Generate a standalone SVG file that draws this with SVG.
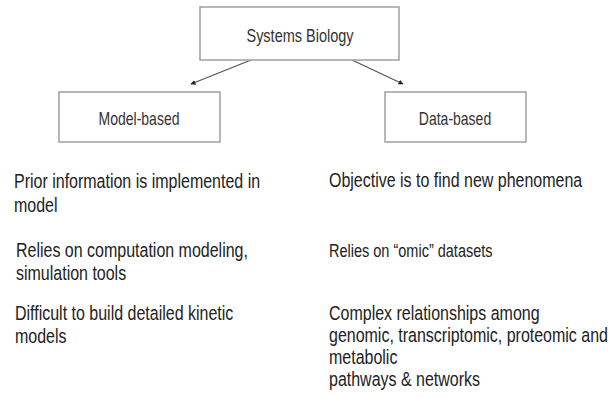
<svg xmlns="http://www.w3.org/2000/svg" width="610" height="398" viewBox="0 0 610 398">
  <style>
    .box { fill: #ffffff; stroke: #a0a0a0; stroke-width: 1.5; }
    .label { font-family: "Liberation Sans", Arial, sans-serif; font-size: 14px; fill: #333333; text-anchor: middle; }
    .body { font-family: "Liberation Sans", Arial, sans-serif; font-size: 16px; fill: #222222; }
    .edge { stroke: #555555; stroke-width: 1.3; fill: none; marker-end: url(#arrow); }
  </style>
  <defs>
    <marker id="arrow" viewBox="0 0 10 10" refX="9" refY="5" markerWidth="5" markerHeight="5" orient="auto" markerUnits="userSpaceOnUse">
      <path d="M0,0 L10,5 L0,10 z" fill="#222222"/>
    </marker>
  </defs>
  <rect width="610" height="398" fill="#ffffff"/>

  <g id="connectors">
    <line class="edge" x1="251" y1="60" x2="191" y2="84"/>
    <line class="edge" x1="352" y1="60" x2="403" y2="84"/>
  </g>

  <!-- text is set with a slightly tall aspect: scale(1 1.28) about each baseline -->
  <g id="systems-biology">
    <rect class="box" x="200" y="7" width="199" height="53"/>
    <text class="label" transform="translate(300 42) scale(1 1.3)" style="font-size:14.5px">Systems Biology</text>
  </g>

  <g id="model-based">
    <rect class="box" x="59" y="92" width="161" height="50"/>
    <text class="label" transform="translate(139 125) scale(1 1.3)">Model-based</text>
  </g>

  <g id="data-based">
    <rect class="box" x="385" y="92" width="141" height="50"/>
    <text class="label" transform="translate(455 125) scale(1 1.3)">Data-based</text>
  </g>

  <g id="model-notes">
    <text class="body" transform="translate(14 188) scale(1 1.28)">Prior information is implemented in</text>
    <text class="body" transform="translate(14 212) scale(1 1.28)">model</text>
    <text class="body" transform="translate(16 257) scale(1 1.28)">Relies on computation modeling,</text>
    <text class="body" transform="translate(16 280) scale(1 1.28)">simulation tools</text>
    <text class="body" transform="translate(15 320) scale(1 1.28)">Difficult to build detailed kinetic</text>
    <text class="body" transform="translate(15 343) scale(1 1.28)">models</text>
  </g>

  <g id="data-notes">
    <text class="body" transform="translate(329 187) scale(1 1.28)">Objective is to find new phenomena</text>
    <text class="body" transform="translate(329 257) scale(1 1.25)" style="font-size:14.5px">Relies on “omic” datasets</text>
    <text class="body" transform="translate(329 320) scale(1 1.28)">Complex relationships among</text>
    <text class="body" transform="translate(329 342) scale(1 1.28)">genomic, transcriptomic, proteomic and</text>
    <text class="body" transform="translate(329 364) scale(1 1.28)">metabolic</text>
    <text class="body" transform="translate(329 386) scale(1 1.28)">pathways &amp; networks</text>
  </g>
</svg>
